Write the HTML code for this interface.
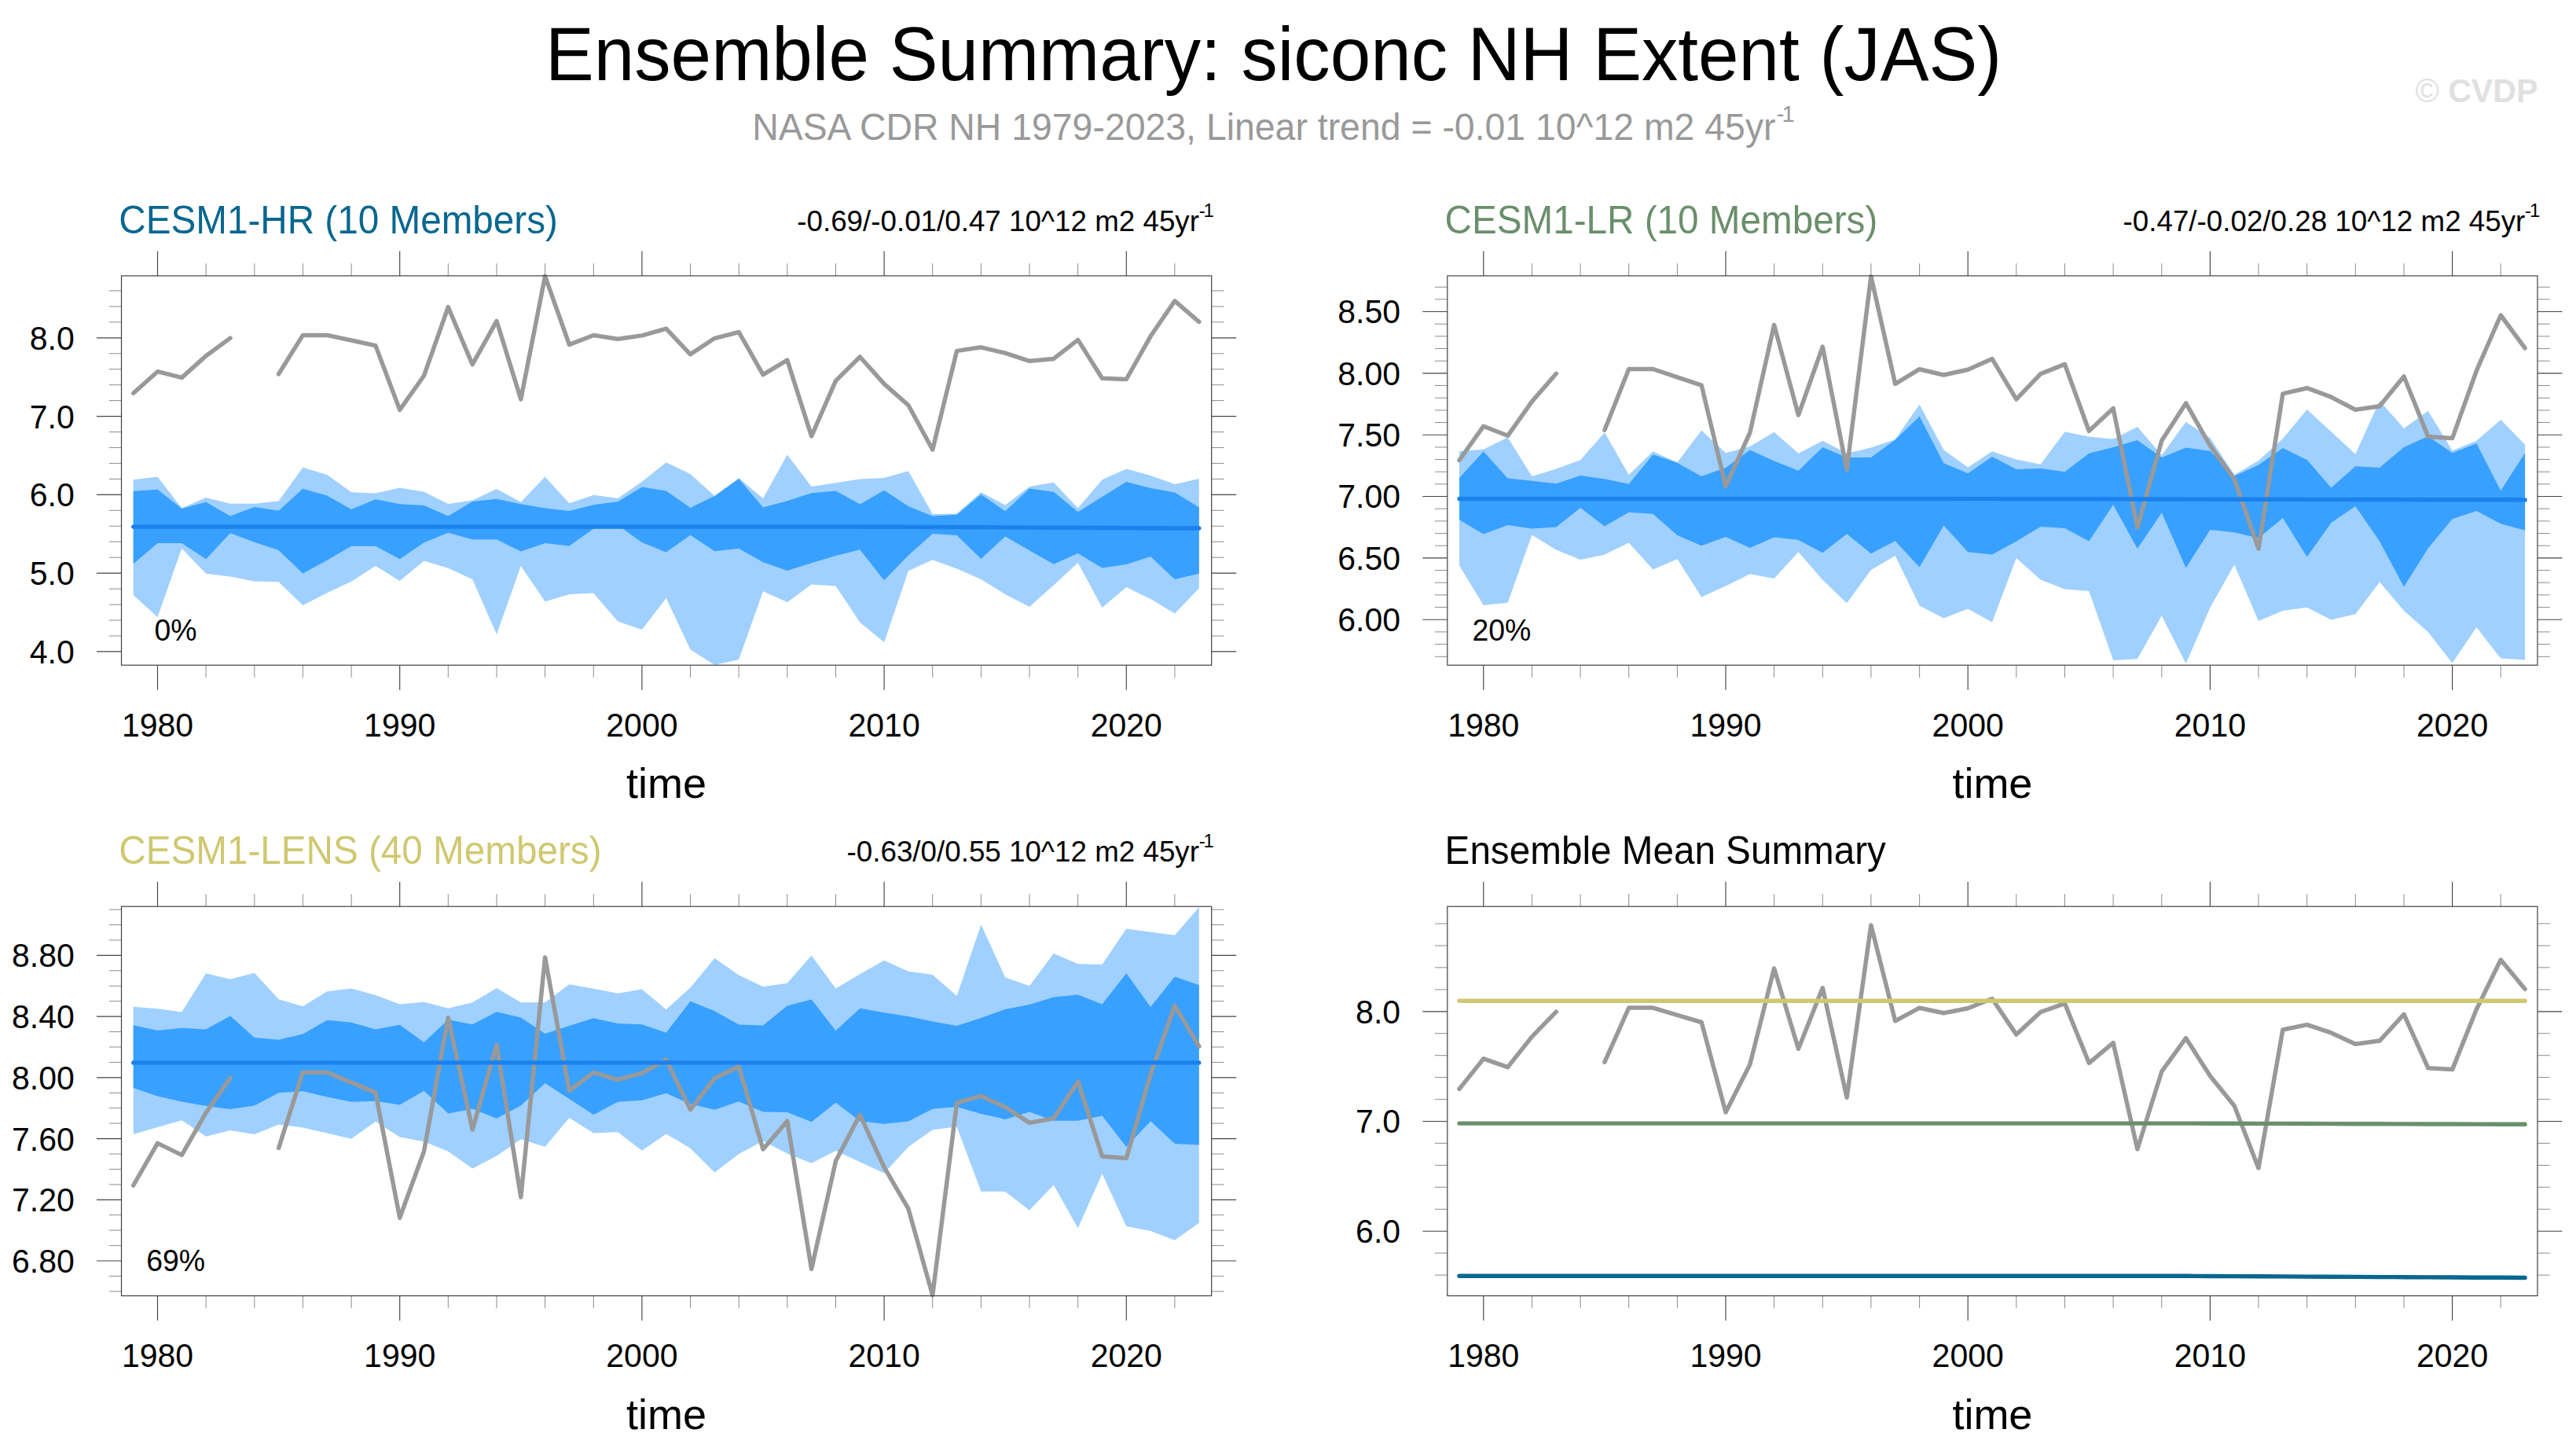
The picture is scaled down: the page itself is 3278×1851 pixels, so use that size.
<!DOCTYPE html>
<html><head><meta charset="utf-8"><title>Ensemble Summary: siconc NH Extent (JAS)</title>
<style>html,body{margin:0;padding:0;background:#fff}body{width:3278px;height:1851px;overflow:hidden}svg{display:block}text{font-family:"Liberation Sans",Arial,Helvetica,sans-serif}</style></head><body>
<svg width="3278" height="1851" viewBox="0 0 3278 1851">
<rect width="3278" height="1851" fill="#fff"/>
<defs>
<clipPath id="c1"><rect x="154.5" y="350.9" width="1387.2" height="495.3"/></clipPath>
<clipPath id="c2"><rect x="1841.8" y="350.9" width="1387.2" height="495.3"/></clipPath>
<clipPath id="c3"><rect x="154.5" y="1153.2" width="1387.2" height="495.3"/></clipPath>
<clipPath id="c4"><rect x="1841.8" y="1153.2" width="1387.2" height="495.3"/></clipPath>
</defs>
<text transform="translate(694.0 101.6) scale(1 1.035)" font-size="92.64">Ensemble Summary: siconc NH Extent (JAS)</text>
<text transform="translate(957.2 178.0) scale(1 1.035)" font-size="46.42" fill="#999">NASA CDR NH 1979-2023, Linear trend = -0.01 10^12 m2 45yr</text>
<text x="2260.8" y="155.4" font-size="29.3" letter-spacing="-3.0" fill="#999">-1</text>
<text transform="translate(3229.3 129.9) scale(1 1.035)" font-size="41.10" text-anchor="end" fill="#e0e0e0" font-weight="bold"><tspan font-weight="normal">©</tspan> CVDP</text>
<polygon clip-path="url(#c1)" fill="#9fd0ff" points="169.7,610.2 200.5,606.6 231.3,646.4 262.1,632.9 293.0,640.8 323.8,640.8 354.6,637.4 385.4,594.8 416.2,604.1 447.1,626.2 477.9,627.5 508.7,620.4 539.5,625.8 570.3,641.0 601.2,636.4 632.0,622.0 662.8,638.7 693.6,606.4 724.4,640.2 755.3,629.7 786.1,633.9 816.9,612.7 847.7,588.3 878.5,603.1 909.4,631.0 940.2,608.3 971.0,633.9 1001.8,578.5 1032.6,618.9 1063.5,614.3 1094.3,609.4 1125.1,607.9 1155.9,599.2 1186.7,654.1 1217.6,653.5 1248.4,626.2 1279.2,642.5 1310.0,619.1 1340.8,613.7 1371.7,646.4 1402.5,610.2 1433.3,596.4 1464.1,605.0 1494.9,616.0 1525.8,608.9 1525.8,748.4 1494.9,780.5 1464.1,761.9 1433.3,747.1 1402.5,773.0 1371.7,715.7 1340.8,744.5 1310.0,771.9 1279.2,756.1 1248.4,736.9 1217.6,723.4 1186.7,712.2 1155.9,726.3 1125.1,817.1 1094.3,791.7 1063.5,745.5 1032.6,743.6 1001.8,766.1 971.0,752.2 940.2,838.9 909.4,846.0 878.5,826.3 847.7,760.9 816.9,800.9 786.1,790.4 755.3,754.6 724.4,756.1 693.6,765.3 662.8,720.1 632.0,807.1 601.2,736.9 570.3,722.8 539.5,713.4 508.7,739.0 477.9,720.1 447.1,739.7 416.2,754.2 385.4,770.1 354.6,740.3 323.8,739.4 293.0,733.6 262.1,729.7 231.3,697.8 200.5,785.0 169.7,757.1"/>
<polygon clip-path="url(#c1)" fill="#38a0ff" points="169.7,624.8 200.5,622.7 231.3,647.0 262.1,638.7 293.0,656.6 323.8,645.1 354.6,649.7 385.4,621.8 416.2,630.6 447.1,647.9 477.9,635.2 508.7,641.2 539.5,642.9 570.3,656.4 601.2,638.1 632.0,634.8 662.8,641.2 693.6,646.4 724.4,649.9 755.3,642.2 786.1,638.3 816.9,619.6 847.7,624.6 878.5,646.0 909.4,631.0 940.2,608.9 971.0,645.4 1001.8,637.2 1032.6,627.2 1063.5,624.5 1094.3,641.6 1125.1,623.7 1155.9,643.9 1186.7,656.4 1217.6,654.7 1248.4,629.1 1279.2,650.2 1310.0,621.4 1340.8,625.8 1371.7,651.2 1402.5,632.0 1433.3,613.1 1464.1,621.0 1494.9,626.6 1525.8,645.4 1525.8,729.7 1494.9,736.9 1464.1,708.0 1433.3,718.0 1402.5,722.4 1371.7,704.1 1340.8,717.8 1310.0,700.3 1279.2,682.4 1248.4,710.9 1217.6,681.0 1186.7,679.1 1155.9,706.6 1125.1,738.2 1094.3,699.3 1063.5,707.0 1032.6,716.3 1001.8,725.9 971.0,715.3 940.2,697.8 909.4,701.2 878.5,680.8 847.7,702.4 816.9,690.1 786.1,668.1 755.3,672.4 724.4,694.5 693.6,691.0 662.8,701.6 632.0,686.2 601.2,686.2 570.3,677.8 539.5,690.3 508.7,711.3 477.9,694.7 447.1,694.7 416.2,712.8 385.4,729.5 354.6,699.9 323.8,689.7 293.0,678.2 262.1,711.3 231.3,691.0 200.5,691.0 169.7,717.2"/>
<polyline fill="none" stroke="#999999" stroke-width="5.5" stroke-linecap="round" stroke-linejoin="round" points="169.7,500.2 200.5,472.7 231.3,480.4 262.1,452.7 293.0,430.1"/>
<polyline fill="none" stroke="#999999" stroke-width="5.5" stroke-linecap="round" stroke-linejoin="round" points="354.6,475.8 385.4,426.4 416.2,426.4 447.1,433.0 477.9,439.6 508.7,521.4 539.5,478.0 570.3,390.7 601.2,463.7 632.0,408.3 662.8,507.9 693.6,351.4 724.4,438.4 755.3,426.5 786.1,431.2 816.9,426.9 847.7,418.1 878.5,450.8 909.4,430.3 940.2,422.5 971.0,476.6 1001.8,458.2 1032.6,554.8 1063.5,484.4 1094.3,454.0 1125.1,488.4 1155.9,515.5 1186.7,572.0 1217.6,446.4 1248.4,441.8 1279.2,449.2 1310.0,459.3 1340.8,456.4 1371.7,432.4 1402.5,481.2 1433.3,482.5 1464.1,427.8 1494.9,382.8 1525.8,409.4"/>
<polyline fill="none" stroke="#1a81ed" stroke-width="5.4" stroke-linecap="round" stroke-linejoin="round" points="169.7,670.1 200.5,670.1 231.3,670.1 262.1,670.1 293.0,670.1 323.8,670.1 354.6,670.1 385.4,670.1 416.2,670.1 447.1,670.1 477.9,670.1 508.7,670.1 539.5,670.1 570.3,670.1 601.2,670.1 632.0,670.1 662.8,670.1 693.6,670.1 724.4,670.1 755.3,670.1 786.1,670.1 816.9,670.1 847.7,670.1 878.5,670.1 909.4,670.1 940.2,670.1 971.0,670.1 1001.8,670.1 1032.6,670.1 1063.5,670.1 1094.3,670.1 1125.1,670.2 1155.9,670.4 1186.7,670.5 1217.6,670.6 1248.4,670.8 1279.2,670.9 1310.0,671.1 1340.8,671.2 1371.7,671.3 1402.5,671.5 1433.3,671.6 1464.1,671.7 1494.9,671.9 1525.8,672.0"/>
<path d="M200.5 350.9V319.4M200.5 846.2V877.7" stroke="#444" stroke-width="1.15"/>
<path d="M262.1 350.9V335.1M262.1 846.2V862.0" stroke="#8c8c8c" stroke-width="1.0"/>
<path d="M323.8 350.9V335.1M323.8 846.2V862.0" stroke="#8c8c8c" stroke-width="1.0"/>
<path d="M385.4 350.9V335.1M385.4 846.2V862.0" stroke="#8c8c8c" stroke-width="1.0"/>
<path d="M447.1 350.9V335.1M447.1 846.2V862.0" stroke="#8c8c8c" stroke-width="1.0"/>
<path d="M508.7 350.9V319.4M508.7 846.2V877.7" stroke="#444" stroke-width="1.15"/>
<path d="M570.3 350.9V335.1M570.3 846.2V862.0" stroke="#8c8c8c" stroke-width="1.0"/>
<path d="M632.0 350.9V335.1M632.0 846.2V862.0" stroke="#8c8c8c" stroke-width="1.0"/>
<path d="M693.6 350.9V335.1M693.6 846.2V862.0" stroke="#8c8c8c" stroke-width="1.0"/>
<path d="M755.3 350.9V335.1M755.3 846.2V862.0" stroke="#8c8c8c" stroke-width="1.0"/>
<path d="M816.9 350.9V319.4M816.9 846.2V877.7" stroke="#444" stroke-width="1.15"/>
<path d="M878.5 350.9V335.1M878.5 846.2V862.0" stroke="#8c8c8c" stroke-width="1.0"/>
<path d="M940.2 350.9V335.1M940.2 846.2V862.0" stroke="#8c8c8c" stroke-width="1.0"/>
<path d="M1001.8 350.9V335.1M1001.8 846.2V862.0" stroke="#8c8c8c" stroke-width="1.0"/>
<path d="M1063.5 350.9V335.1M1063.5 846.2V862.0" stroke="#8c8c8c" stroke-width="1.0"/>
<path d="M1125.1 350.9V319.4M1125.1 846.2V877.7" stroke="#444" stroke-width="1.15"/>
<path d="M1186.7 350.9V335.1M1186.7 846.2V862.0" stroke="#8c8c8c" stroke-width="1.0"/>
<path d="M1248.4 350.9V335.1M1248.4 846.2V862.0" stroke="#8c8c8c" stroke-width="1.0"/>
<path d="M1310.0 350.9V335.1M1310.0 846.2V862.0" stroke="#8c8c8c" stroke-width="1.0"/>
<path d="M1371.7 350.9V335.1M1371.7 846.2V862.0" stroke="#8c8c8c" stroke-width="1.0"/>
<path d="M1433.3 350.9V319.4M1433.3 846.2V877.7" stroke="#444" stroke-width="1.15"/>
<path d="M1494.9 350.9V335.1M1494.9 846.2V862.0" stroke="#8c8c8c" stroke-width="1.0"/>
<path d="M154.5 809.0H138.7M1541.7 809.0H1557.5" stroke="#8c8c8c" stroke-width="1.0"/>
<path d="M154.5 789.0H138.7M1541.7 789.0H1557.5" stroke="#8c8c8c" stroke-width="1.0"/>
<path d="M154.5 769.1H138.7M1541.7 769.1H1557.5" stroke="#8c8c8c" stroke-width="1.0"/>
<path d="M154.5 749.1H138.7M1541.7 749.1H1557.5" stroke="#8c8c8c" stroke-width="1.0"/>
<path d="M154.5 709.2H138.7M1541.7 709.2H1557.5" stroke="#8c8c8c" stroke-width="1.0"/>
<path d="M154.5 689.2H138.7M1541.7 689.2H1557.5" stroke="#8c8c8c" stroke-width="1.0"/>
<path d="M154.5 669.3H138.7M1541.7 669.3H1557.5" stroke="#8c8c8c" stroke-width="1.0"/>
<path d="M154.5 649.3H138.7M1541.7 649.3H1557.5" stroke="#8c8c8c" stroke-width="1.0"/>
<path d="M154.5 609.4H138.7M1541.7 609.4H1557.5" stroke="#8c8c8c" stroke-width="1.0"/>
<path d="M154.5 589.4H138.7M1541.7 589.4H1557.5" stroke="#8c8c8c" stroke-width="1.0"/>
<path d="M154.5 569.5H138.7M1541.7 569.5H1557.5" stroke="#8c8c8c" stroke-width="1.0"/>
<path d="M154.5 549.5H138.7M1541.7 549.5H1557.5" stroke="#8c8c8c" stroke-width="1.0"/>
<path d="M154.5 509.6H138.7M1541.7 509.6H1557.5" stroke="#8c8c8c" stroke-width="1.0"/>
<path d="M154.5 489.7H138.7M1541.7 489.7H1557.5" stroke="#8c8c8c" stroke-width="1.0"/>
<path d="M154.5 469.7H138.7M1541.7 469.7H1557.5" stroke="#8c8c8c" stroke-width="1.0"/>
<path d="M154.5 449.8H138.7M1541.7 449.8H1557.5" stroke="#8c8c8c" stroke-width="1.0"/>
<path d="M154.5 409.8H138.7M1541.7 409.8H1557.5" stroke="#8c8c8c" stroke-width="1.0"/>
<path d="M154.5 389.9H138.7M1541.7 389.9H1557.5" stroke="#8c8c8c" stroke-width="1.0"/>
<path d="M154.5 369.9H138.7M1541.7 369.9H1557.5" stroke="#8c8c8c" stroke-width="1.0"/>
<path d="M154.5 828.9H123.0M1541.7 828.9H1573.2" stroke="#444" stroke-width="1.15"/>
<text transform="translate(94.8 843.8) scale(1 1.025)" font-size="41.00" text-anchor="end">4.0</text>
<path d="M154.5 729.1H123.0M1541.7 729.1H1573.2" stroke="#444" stroke-width="1.15"/>
<text transform="translate(94.8 744.0) scale(1 1.025)" font-size="41.00" text-anchor="end">5.0</text>
<path d="M154.5 629.4H123.0M1541.7 629.4H1573.2" stroke="#444" stroke-width="1.15"/>
<text transform="translate(94.8 644.3) scale(1 1.025)" font-size="41.00" text-anchor="end">6.0</text>
<path d="M154.5 529.6H123.0M1541.7 529.6H1573.2" stroke="#444" stroke-width="1.15"/>
<text transform="translate(94.8 544.5) scale(1 1.025)" font-size="41.00" text-anchor="end">7.0</text>
<path d="M154.5 429.8H123.0M1541.7 429.8H1573.2" stroke="#444" stroke-width="1.15"/>
<text transform="translate(94.8 444.7) scale(1 1.025)" font-size="41.00" text-anchor="end">8.0</text>
<rect x="154.5" y="350.9" width="1387.2" height="495.3" fill="none" stroke="#3a3a3a" stroke-width="1.15"/>
<text transform="translate(200.5 936.5) scale(1 1.025)" font-size="41.00" text-anchor="middle">1980</text>
<text transform="translate(508.7 936.5) scale(1 1.025)" font-size="41.00" text-anchor="middle">1990</text>
<text transform="translate(816.9 936.5) scale(1 1.025)" font-size="41.00" text-anchor="middle">2000</text>
<text transform="translate(1125.1 936.5) scale(1 1.025)" font-size="41.00" text-anchor="middle">2010</text>
<text transform="translate(1433.3 936.5) scale(1 1.025)" font-size="41.00" text-anchor="middle">2020</text>
<text x="848.1" y="1015.3" font-size="54.00" text-anchor="middle">time</text>
<text transform="translate(151.3 296.5) scale(1 1.035)" font-size="47.65" fill="#07678f">CESM1-HR (10 Members)</text>
<text transform="translate(1526.0 293.9) scale(1 1.025)" font-size="36.77" text-anchor="end">-0.69/-0.01/0.47 10^12 m2 45yr</text>
<text x="1525.8" y="276.0" font-size="24.0" letter-spacing="-2.2">-1</text>
<text transform="translate(223.6 815.0) scale(1 1.025)" font-size="37.40" text-anchor="middle">0%</text>
<polygon clip-path="url(#c2)" fill="#9fd0ff" points="1857.0,573.9 1887.8,571.8 1918.6,556.6 1949.4,606.1 1980.3,596.4 2011.1,585.3 2041.9,550.2 2072.7,604.1 2103.5,574.3 2134.4,588.2 2165.2,547.4 2196.0,576.2 2226.8,568.1 2257.6,549.7 2288.5,576.8 2319.3,560.8 2350.1,576.8 2380.9,569.5 2411.7,558.9 2442.6,514.6 2473.4,572.4 2504.2,594.5 2535.0,574.3 2565.8,584.5 2596.7,590.7 2627.5,549.3 2658.3,555.6 2689.1,558.5 2719.9,542.9 2750.8,579.1 2781.6,536.8 2812.4,557.0 2843.2,604.1 2874.0,585.9 2904.9,557.9 2935.7,521.0 2966.5,549.3 2997.3,577.8 3028.1,509.8 3059.0,544.9 3089.8,522.7 3120.6,573.3 3151.4,560.8 3182.2,533.9 3213.1,565.6 3213.1,839.5 3182.2,837.6 3151.4,798.1 3120.6,843.4 3089.8,803.9 3059.0,777.0 3028.1,740.4 2997.3,781.2 2966.5,788.5 2935.7,772.7 2904.9,777.0 2874.0,790.0 2843.2,718.3 2812.4,773.1 2781.6,844.3 2750.8,783.3 2719.9,838.2 2689.1,839.9 2658.3,751.9 2627.5,749.4 2596.7,737.5 2565.8,710.0 2535.0,791.4 2504.2,774.5 2473.4,786.6 2442.6,770.6 2411.7,707.1 2380.9,725.0 2350.1,767.3 2319.3,737.7 2288.5,702.3 2257.6,736.0 2226.8,730.2 2196.0,745.6 2165.2,759.4 2134.4,711.3 2103.5,724.4 2072.7,690.4 2041.9,705.6 2011.1,711.9 1980.3,699.4 1949.4,680.5 1918.6,766.8 1887.8,770.0 1857.0,719.6"/>
<polygon clip-path="url(#c2)" fill="#38a0ff" points="1857.0,608.0 1887.8,574.3 1918.6,608.4 1949.4,611.8 1980.3,615.3 2011.1,605.1 2041.9,609.3 2072.7,615.7 2103.5,578.2 2134.4,588.7 2165.2,606.1 2196.0,595.1 2226.8,572.4 2257.6,586.4 2288.5,598.7 2319.3,569.1 2350.1,582.0 2380.9,582.0 2411.7,559.5 2442.6,529.7 2473.4,589.3 2504.2,602.2 2535.0,581.0 2565.8,597.0 2596.7,595.9 2627.5,600.3 2658.3,576.8 2689.1,569.1 2719.9,559.9 2750.8,582.0 2781.6,569.5 2812.4,573.7 2843.2,605.5 2874.0,591.6 2904.9,570.1 2935.7,584.9 2966.5,620.5 2997.3,593.2 3028.1,594.9 3059.0,568.9 3089.8,555.1 3120.6,576.2 3151.4,564.3 3182.2,624.3 3213.1,576.2 3213.1,674.8 3182.2,666.3 3151.4,649.9 3120.6,660.3 3089.8,697.5 3059.0,746.6 3028.1,688.8 2997.3,644.0 2966.5,665.1 2935.7,708.4 2904.9,659.0 2874.0,684.4 2843.2,677.3 2812.4,674.0 2781.6,722.5 2750.8,652.2 2719.9,697.9 2689.1,642.2 2658.3,688.4 2627.5,672.1 2596.7,670.0 2565.8,688.8 2535.0,705.6 2504.2,702.3 2473.4,668.6 2442.6,721.5 2411.7,688.2 2380.9,704.2 2350.1,679.2 2319.3,703.2 2288.5,686.9 2257.6,683.6 2226.8,696.9 2196.0,683.0 2165.2,694.2 2134.4,681.1 2103.5,653.8 2072.7,651.7 2041.9,669.6 2011.1,646.1 1980.3,670.5 1949.4,672.5 1918.6,668.0 1887.8,679.6 1857.0,661.3"/>
<polyline fill="none" stroke="#999999" stroke-width="5.5" stroke-linecap="round" stroke-linejoin="round" points="1857.0,585.5 1887.8,542.2 1918.6,554.3 1949.4,510.9 1980.3,475.3"/>
<polyline fill="none" stroke="#999999" stroke-width="5.5" stroke-linecap="round" stroke-linejoin="round" points="2041.9,547.1 2072.7,469.5 2103.5,469.5 2134.4,479.9 2165.2,490.2 2196.0,618.7 2226.8,550.5 2257.6,413.4 2288.5,528.1 2319.3,441.2 2350.1,597.5 2380.9,351.7 2411.7,488.3 2442.6,469.7 2473.4,477.0 2504.2,470.3 2535.0,456.5 2565.8,507.8 2596.7,475.6 2627.5,463.4 2658.3,548.3 2689.1,519.5 2719.9,671.2 2750.8,560.6 2781.6,512.9 2812.4,566.8 2843.2,609.5 2874.0,698.1 2904.9,500.9 2935.7,493.7 2966.5,505.2 2997.3,521.2 3028.1,516.7 3059.0,478.9 3089.8,555.6 3120.6,557.6 3151.4,471.7 3182.2,401.0 3213.1,442.9"/>
<polyline fill="none" stroke="#1a81ed" stroke-width="5.4" stroke-linecap="round" stroke-linejoin="round" points="1857.0,634.5 1887.8,634.5 1918.6,634.5 1949.4,634.5 1980.3,634.5 2011.1,634.5 2041.9,634.5 2072.7,634.5 2103.5,634.5 2134.4,634.5 2165.2,634.5 2196.0,634.5 2226.8,634.5 2257.6,634.5 2288.5,634.5 2319.3,634.5 2350.1,634.5 2380.9,634.5 2411.7,634.5 2442.6,634.5 2473.4,634.5 2504.2,634.6 2535.0,634.6 2565.8,634.7 2596.7,634.7 2627.5,634.8 2658.3,634.9 2689.1,634.9 2719.9,635.0 2750.8,635.0 2781.6,635.1 2812.4,635.1 2843.2,635.2 2874.0,635.3 2904.9,635.3 2935.7,635.4 2966.5,635.4 2997.3,635.5 3028.1,635.5 3059.0,635.6 3089.8,635.7 3120.6,635.7 3151.4,635.8 3182.2,635.8 3213.1,635.9"/>
<path d="M1887.8 350.9V319.4M1887.8 846.2V877.7" stroke="#444" stroke-width="1.15"/>
<path d="M1949.4 350.9V335.1M1949.4 846.2V862.0" stroke="#8c8c8c" stroke-width="1.0"/>
<path d="M2011.1 350.9V335.1M2011.1 846.2V862.0" stroke="#8c8c8c" stroke-width="1.0"/>
<path d="M2072.7 350.9V335.1M2072.7 846.2V862.0" stroke="#8c8c8c" stroke-width="1.0"/>
<path d="M2134.4 350.9V335.1M2134.4 846.2V862.0" stroke="#8c8c8c" stroke-width="1.0"/>
<path d="M2196.0 350.9V319.4M2196.0 846.2V877.7" stroke="#444" stroke-width="1.15"/>
<path d="M2257.6 350.9V335.1M2257.6 846.2V862.0" stroke="#8c8c8c" stroke-width="1.0"/>
<path d="M2319.3 350.9V335.1M2319.3 846.2V862.0" stroke="#8c8c8c" stroke-width="1.0"/>
<path d="M2380.9 350.9V335.1M2380.9 846.2V862.0" stroke="#8c8c8c" stroke-width="1.0"/>
<path d="M2442.6 350.9V335.1M2442.6 846.2V862.0" stroke="#8c8c8c" stroke-width="1.0"/>
<path d="M2504.2 350.9V319.4M2504.2 846.2V877.7" stroke="#444" stroke-width="1.15"/>
<path d="M2565.8 350.9V335.1M2565.8 846.2V862.0" stroke="#8c8c8c" stroke-width="1.0"/>
<path d="M2627.5 350.9V335.1M2627.5 846.2V862.0" stroke="#8c8c8c" stroke-width="1.0"/>
<path d="M2689.1 350.9V335.1M2689.1 846.2V862.0" stroke="#8c8c8c" stroke-width="1.0"/>
<path d="M2750.8 350.9V335.1M2750.8 846.2V862.0" stroke="#8c8c8c" stroke-width="1.0"/>
<path d="M2812.4 350.9V319.4M2812.4 846.2V877.7" stroke="#444" stroke-width="1.15"/>
<path d="M2874.0 350.9V335.1M2874.0 846.2V862.0" stroke="#8c8c8c" stroke-width="1.0"/>
<path d="M2935.7 350.9V335.1M2935.7 846.2V862.0" stroke="#8c8c8c" stroke-width="1.0"/>
<path d="M2997.3 350.9V335.1M2997.3 846.2V862.0" stroke="#8c8c8c" stroke-width="1.0"/>
<path d="M3059.0 350.9V335.1M3059.0 846.2V862.0" stroke="#8c8c8c" stroke-width="1.0"/>
<path d="M3120.6 350.9V319.4M3120.6 846.2V877.7" stroke="#444" stroke-width="1.15"/>
<path d="M3182.2 350.9V335.1M3182.2 846.2V862.0" stroke="#8c8c8c" stroke-width="1.0"/>
<path d="M1841.8 835.3H1826.0M3229.0 835.3H3244.8" stroke="#8c8c8c" stroke-width="1.0"/>
<path d="M1841.8 819.6H1826.0M3229.0 819.6H3244.8" stroke="#8c8c8c" stroke-width="1.0"/>
<path d="M1841.8 803.9H1826.0M3229.0 803.9H3244.8" stroke="#8c8c8c" stroke-width="1.0"/>
<path d="M1841.8 772.6H1826.0M3229.0 772.6H3244.8" stroke="#8c8c8c" stroke-width="1.0"/>
<path d="M1841.8 756.9H1826.0M3229.0 756.9H3244.8" stroke="#8c8c8c" stroke-width="1.0"/>
<path d="M1841.8 741.2H1826.0M3229.0 741.2H3244.8" stroke="#8c8c8c" stroke-width="1.0"/>
<path d="M1841.8 725.6H1826.0M3229.0 725.6H3244.8" stroke="#8c8c8c" stroke-width="1.0"/>
<path d="M1841.8 694.2H1826.0M3229.0 694.2H3244.8" stroke="#8c8c8c" stroke-width="1.0"/>
<path d="M1841.8 678.6H1826.0M3229.0 678.6H3244.8" stroke="#8c8c8c" stroke-width="1.0"/>
<path d="M1841.8 662.9H1826.0M3229.0 662.9H3244.8" stroke="#8c8c8c" stroke-width="1.0"/>
<path d="M1841.8 647.2H1826.0M3229.0 647.2H3244.8" stroke="#8c8c8c" stroke-width="1.0"/>
<path d="M1841.8 615.9H1826.0M3229.0 615.9H3244.8" stroke="#8c8c8c" stroke-width="1.0"/>
<path d="M1841.8 600.2H1826.0M3229.0 600.2H3244.8" stroke="#8c8c8c" stroke-width="1.0"/>
<path d="M1841.8 584.5H1826.0M3229.0 584.5H3244.8" stroke="#8c8c8c" stroke-width="1.0"/>
<path d="M1841.8 568.9H1826.0M3229.0 568.9H3244.8" stroke="#8c8c8c" stroke-width="1.0"/>
<path d="M1841.8 537.5H1826.0M3229.0 537.5H3244.8" stroke="#8c8c8c" stroke-width="1.0"/>
<path d="M1841.8 521.9H1826.0M3229.0 521.9H3244.8" stroke="#8c8c8c" stroke-width="1.0"/>
<path d="M1841.8 506.2H1826.0M3229.0 506.2H3244.8" stroke="#8c8c8c" stroke-width="1.0"/>
<path d="M1841.8 490.5H1826.0M3229.0 490.5H3244.8" stroke="#8c8c8c" stroke-width="1.0"/>
<path d="M1841.8 459.2H1826.0M3229.0 459.2H3244.8" stroke="#8c8c8c" stroke-width="1.0"/>
<path d="M1841.8 443.5H1826.0M3229.0 443.5H3244.8" stroke="#8c8c8c" stroke-width="1.0"/>
<path d="M1841.8 427.8H1826.0M3229.0 427.8H3244.8" stroke="#8c8c8c" stroke-width="1.0"/>
<path d="M1841.8 412.2H1826.0M3229.0 412.2H3244.8" stroke="#8c8c8c" stroke-width="1.0"/>
<path d="M1841.8 380.8H1826.0M3229.0 380.8H3244.8" stroke="#8c8c8c" stroke-width="1.0"/>
<path d="M1841.8 365.2H1826.0M3229.0 365.2H3244.8" stroke="#8c8c8c" stroke-width="1.0"/>
<path d="M1841.8 788.2H1810.3M3229.0 788.2H3260.5" stroke="#444" stroke-width="1.15"/>
<text transform="translate(1782.1 803.1) scale(1 1.025)" font-size="41.00" text-anchor="end">6.00</text>
<path d="M1841.8 709.9H1810.3M3229.0 709.9H3260.5" stroke="#444" stroke-width="1.15"/>
<text transform="translate(1782.1 724.8) scale(1 1.025)" font-size="41.00" text-anchor="end">6.50</text>
<path d="M1841.8 631.5H1810.3M3229.0 631.5H3260.5" stroke="#444" stroke-width="1.15"/>
<text transform="translate(1782.1 646.4) scale(1 1.025)" font-size="41.00" text-anchor="end">7.00</text>
<path d="M1841.8 553.2H1810.3M3229.0 553.2H3260.5" stroke="#444" stroke-width="1.15"/>
<text transform="translate(1782.1 568.1) scale(1 1.025)" font-size="41.00" text-anchor="end">7.50</text>
<path d="M1841.8 474.9H1810.3M3229.0 474.9H3260.5" stroke="#444" stroke-width="1.15"/>
<text transform="translate(1782.1 489.8) scale(1 1.025)" font-size="41.00" text-anchor="end">8.00</text>
<path d="M1841.8 396.5H1810.3M3229.0 396.5H3260.5" stroke="#444" stroke-width="1.15"/>
<text transform="translate(1782.1 411.4) scale(1 1.025)" font-size="41.00" text-anchor="end">8.50</text>
<rect x="1841.8" y="350.9" width="1387.2" height="495.3" fill="none" stroke="#3a3a3a" stroke-width="1.15"/>
<text transform="translate(1887.8 936.5) scale(1 1.025)" font-size="41.00" text-anchor="middle">1980</text>
<text transform="translate(2196.0 936.5) scale(1 1.025)" font-size="41.00" text-anchor="middle">1990</text>
<text transform="translate(2504.2 936.5) scale(1 1.025)" font-size="41.00" text-anchor="middle">2000</text>
<text transform="translate(2812.4 936.5) scale(1 1.025)" font-size="41.00" text-anchor="middle">2010</text>
<text transform="translate(3120.6 936.5) scale(1 1.025)" font-size="41.00" text-anchor="middle">2020</text>
<text x="2535.4" y="1015.3" font-size="54.00" text-anchor="middle">time</text>
<text transform="translate(1838.6 296.5) scale(1 1.035)" font-size="47.65" fill="#6a8f6b">CESM1-LR (10 Members)</text>
<text transform="translate(3213.3 293.9) scale(1 1.025)" font-size="36.77" text-anchor="end">-0.47/-0.02/0.28 10^12 m2 45yr</text>
<text x="3213.1" y="276.0" font-size="24.0" letter-spacing="-2.2">-1</text>
<text transform="translate(1910.9 815.0) scale(1 1.025)" font-size="37.40" text-anchor="middle">20%</text>
<polygon clip-path="url(#c3)" fill="#9fd0ff" points="169.7,1280.7 200.5,1283.2 231.3,1287.4 262.1,1238.2 293.0,1245.7 323.8,1237.8 354.6,1271.3 385.4,1280.3 416.2,1261.2 447.1,1257.4 477.9,1266.1 508.7,1277.4 539.5,1274.7 570.3,1282.8 601.2,1275.3 632.0,1257.0 662.8,1275.3 693.6,1275.3 724.4,1252.2 755.3,1257.8 786.1,1263.7 816.9,1258.4 847.7,1284.3 878.5,1256.4 909.4,1218.9 940.2,1240.5 971.0,1255.3 1001.8,1250.7 1032.6,1215.6 1063.5,1257.4 1094.3,1239.3 1125.1,1221.8 1155.9,1235.8 1186.7,1240.1 1217.6,1267.0 1248.4,1176.2 1279.2,1243.5 1310.0,1254.3 1340.8,1213.1 1371.7,1226.2 1402.5,1227.0 1433.3,1181.4 1464.1,1185.8 1494.9,1189.7 1525.8,1153.9 1525.8,1555.7 1494.9,1577.8 1464.1,1566.1 1433.3,1559.9 1402.5,1493.2 1371.7,1562.4 1340.8,1507.4 1310.0,1539.7 1279.2,1515.9 1248.4,1515.7 1217.6,1433.5 1186.7,1437.2 1155.9,1458.9 1125.1,1492.6 1094.3,1478.2 1063.5,1464.1 1032.6,1479.7 1001.8,1467.6 971.0,1451.6 940.2,1468.0 909.4,1491.6 878.5,1460.8 847.7,1442.5 816.9,1463.7 786.1,1440.2 755.3,1441.6 724.4,1422.0 693.6,1458.9 662.8,1449.3 632.0,1470.5 601.2,1486.4 570.3,1464.7 539.5,1452.2 508.7,1446.4 477.9,1426.8 447.1,1448.7 416.2,1441.6 385.4,1434.5 354.6,1430.4 323.8,1442.9 293.0,1438.1 262.1,1445.8 231.3,1425.2 200.5,1433.9 169.7,1442.9"/>
<polygon clip-path="url(#c3)" fill="#38a0ff" points="169.7,1304.2 200.5,1310.9 231.3,1307.8 262.1,1309.6 293.0,1292.4 323.8,1319.9 354.6,1322.8 385.4,1315.5 416.2,1297.8 447.1,1300.7 477.9,1309.4 508.7,1303.8 539.5,1326.1 570.3,1297.2 601.2,1303.2 632.0,1287.2 662.8,1294.5 693.6,1315.1 724.4,1305.1 755.3,1295.3 786.1,1302.0 816.9,1303.2 847.7,1313.8 878.5,1273.8 909.4,1286.3 940.2,1303.6 971.0,1304.5 1001.8,1279.5 1032.6,1271.4 1063.5,1311.3 1094.3,1282.8 1125.1,1288.2 1155.9,1293.0 1186.7,1299.4 1217.6,1305.1 1248.4,1294.9 1279.2,1284.0 1310.0,1278.0 1340.8,1268.6 1371.7,1265.5 1402.5,1277.6 1433.3,1238.2 1464.1,1281.1 1494.9,1242.4 1525.8,1253.2 1525.8,1456.6 1494.9,1455.1 1464.1,1426.2 1433.3,1458.9 1402.5,1419.5 1371.7,1425.8 1340.8,1425.8 1310.0,1414.6 1279.2,1423.9 1248.4,1417.0 1217.6,1407.9 1186.7,1410.8 1155.9,1426.6 1125.1,1429.7 1094.3,1426.2 1063.5,1402.7 1032.6,1427.2 1001.8,1415.0 971.0,1414.6 940.2,1401.2 909.4,1411.8 878.5,1404.6 847.7,1390.8 816.9,1399.8 786.1,1401.7 755.3,1418.1 724.4,1397.9 693.6,1378.1 662.8,1406.4 632.0,1422.7 601.2,1410.8 570.3,1416.6 539.5,1387.7 508.7,1405.6 477.9,1400.8 447.1,1401.7 416.2,1395.6 385.4,1388.3 354.6,1390.2 323.8,1406.6 293.0,1411.0 262.1,1407.1 231.3,1401.4 200.5,1394.6 169.7,1384.0"/>
<polyline fill="none" stroke="#999999" stroke-width="5.5" stroke-linecap="round" stroke-linejoin="round" points="169.7,1508.0 200.5,1454.4 231.3,1469.4 262.1,1415.5 293.0,1371.4"/>
<polyline fill="none" stroke="#999999" stroke-width="5.5" stroke-linecap="round" stroke-linejoin="round" points="354.6,1460.4 385.4,1364.2 416.2,1364.2 447.1,1377.1 477.9,1389.9 508.7,1549.2 539.5,1464.7 570.3,1294.7 601.2,1436.9 632.0,1329.1 662.8,1523.0 693.6,1218.1 724.4,1387.5 755.3,1364.4 786.1,1373.6 816.9,1365.2 847.7,1348.1 878.5,1411.6 909.4,1371.8 940.2,1356.7 971.0,1462.0 1001.8,1426.2 1032.6,1614.3 1063.5,1477.1 1094.3,1418.1 1125.1,1484.9 1155.9,1537.7 1186.7,1647.7 1217.6,1403.1 1248.4,1394.2 1279.2,1408.5 1310.0,1428.4 1340.8,1422.7 1371.7,1375.9 1402.5,1470.9 1433.3,1473.4 1464.1,1367.0 1494.9,1279.3 1525.8,1331.2"/>
<polyline fill="none" stroke="#1a81ed" stroke-width="5.4" stroke-linecap="round" stroke-linejoin="round" points="169.7,1351.9 200.5,1351.9 231.3,1351.9 262.1,1351.9 293.0,1351.9 323.8,1351.9 354.6,1351.9 385.4,1351.9 416.2,1351.9 447.1,1351.9 477.9,1351.9 508.7,1351.9 539.5,1351.9 570.3,1351.9 601.2,1351.9 632.0,1351.9 662.8,1351.9 693.6,1351.9 724.4,1351.9 755.3,1351.9 786.1,1351.9 816.9,1351.9 847.7,1351.9 878.5,1351.9 909.4,1351.9 940.2,1351.9 971.0,1351.9 1001.8,1351.9 1032.6,1351.9 1063.5,1351.9 1094.3,1351.9 1125.1,1351.9 1155.9,1351.9 1186.7,1351.9 1217.6,1351.9 1248.4,1351.9 1279.2,1351.9 1310.0,1351.9 1340.8,1351.9 1371.7,1351.9 1402.5,1351.9 1433.3,1351.9 1464.1,1351.9 1494.9,1351.9 1525.8,1351.9"/>
<path d="M200.5 1153.2V1121.7M200.5 1648.5V1680.0" stroke="#444" stroke-width="1.15"/>
<path d="M262.1 1153.2V1137.4M262.1 1648.5V1664.3" stroke="#8c8c8c" stroke-width="1.0"/>
<path d="M323.8 1153.2V1137.4M323.8 1648.5V1664.3" stroke="#8c8c8c" stroke-width="1.0"/>
<path d="M385.4 1153.2V1137.4M385.4 1648.5V1664.3" stroke="#8c8c8c" stroke-width="1.0"/>
<path d="M447.1 1153.2V1137.4M447.1 1648.5V1664.3" stroke="#8c8c8c" stroke-width="1.0"/>
<path d="M508.7 1153.2V1121.7M508.7 1648.5V1680.0" stroke="#444" stroke-width="1.15"/>
<path d="M570.3 1153.2V1137.4M570.3 1648.5V1664.3" stroke="#8c8c8c" stroke-width="1.0"/>
<path d="M632.0 1153.2V1137.4M632.0 1648.5V1664.3" stroke="#8c8c8c" stroke-width="1.0"/>
<path d="M693.6 1153.2V1137.4M693.6 1648.5V1664.3" stroke="#8c8c8c" stroke-width="1.0"/>
<path d="M755.3 1153.2V1137.4M755.3 1648.5V1664.3" stroke="#8c8c8c" stroke-width="1.0"/>
<path d="M816.9 1153.2V1121.7M816.9 1648.5V1680.0" stroke="#444" stroke-width="1.15"/>
<path d="M878.5 1153.2V1137.4M878.5 1648.5V1664.3" stroke="#8c8c8c" stroke-width="1.0"/>
<path d="M940.2 1153.2V1137.4M940.2 1648.5V1664.3" stroke="#8c8c8c" stroke-width="1.0"/>
<path d="M1001.8 1153.2V1137.4M1001.8 1648.5V1664.3" stroke="#8c8c8c" stroke-width="1.0"/>
<path d="M1063.5 1153.2V1137.4M1063.5 1648.5V1664.3" stroke="#8c8c8c" stroke-width="1.0"/>
<path d="M1125.1 1153.2V1121.7M1125.1 1648.5V1680.0" stroke="#444" stroke-width="1.15"/>
<path d="M1186.7 1153.2V1137.4M1186.7 1648.5V1664.3" stroke="#8c8c8c" stroke-width="1.0"/>
<path d="M1248.4 1153.2V1137.4M1248.4 1648.5V1664.3" stroke="#8c8c8c" stroke-width="1.0"/>
<path d="M1310.0 1153.2V1137.4M1310.0 1648.5V1664.3" stroke="#8c8c8c" stroke-width="1.0"/>
<path d="M1371.7 1153.2V1137.4M1371.7 1648.5V1664.3" stroke="#8c8c8c" stroke-width="1.0"/>
<path d="M1433.3 1153.2V1121.7M1433.3 1648.5V1680.0" stroke="#444" stroke-width="1.15"/>
<path d="M1494.9 1153.2V1137.4M1494.9 1648.5V1664.3" stroke="#8c8c8c" stroke-width="1.0"/>
<path d="M154.5 1642.9H138.7M1541.7 1642.9H1557.5" stroke="#8c8c8c" stroke-width="1.0"/>
<path d="M154.5 1623.4H138.7M1541.7 1623.4H1557.5" stroke="#8c8c8c" stroke-width="1.0"/>
<path d="M154.5 1584.6H138.7M1541.7 1584.6H1557.5" stroke="#8c8c8c" stroke-width="1.0"/>
<path d="M154.5 1565.1H138.7M1541.7 1565.1H1557.5" stroke="#8c8c8c" stroke-width="1.0"/>
<path d="M154.5 1545.7H138.7M1541.7 1545.7H1557.5" stroke="#8c8c8c" stroke-width="1.0"/>
<path d="M154.5 1506.9H138.7M1541.7 1506.9H1557.5" stroke="#8c8c8c" stroke-width="1.0"/>
<path d="M154.5 1487.4H138.7M1541.7 1487.4H1557.5" stroke="#8c8c8c" stroke-width="1.0"/>
<path d="M154.5 1468.0H138.7M1541.7 1468.0H1557.5" stroke="#8c8c8c" stroke-width="1.0"/>
<path d="M154.5 1429.1H138.7M1541.7 1429.1H1557.5" stroke="#8c8c8c" stroke-width="1.0"/>
<path d="M154.5 1409.7H138.7M1541.7 1409.7H1557.5" stroke="#8c8c8c" stroke-width="1.0"/>
<path d="M154.5 1390.3H138.7M1541.7 1390.3H1557.5" stroke="#8c8c8c" stroke-width="1.0"/>
<path d="M154.5 1351.4H138.7M1541.7 1351.4H1557.5" stroke="#8c8c8c" stroke-width="1.0"/>
<path d="M154.5 1332.0H138.7M1541.7 1332.0H1557.5" stroke="#8c8c8c" stroke-width="1.0"/>
<path d="M154.5 1312.6H138.7M1541.7 1312.6H1557.5" stroke="#8c8c8c" stroke-width="1.0"/>
<path d="M154.5 1273.7H138.7M1541.7 1273.7H1557.5" stroke="#8c8c8c" stroke-width="1.0"/>
<path d="M154.5 1254.3H138.7M1541.7 1254.3H1557.5" stroke="#8c8c8c" stroke-width="1.0"/>
<path d="M154.5 1234.8H138.7M1541.7 1234.8H1557.5" stroke="#8c8c8c" stroke-width="1.0"/>
<path d="M154.5 1196.0H138.7M1541.7 1196.0H1557.5" stroke="#8c8c8c" stroke-width="1.0"/>
<path d="M154.5 1176.5H138.7M1541.7 1176.5H1557.5" stroke="#8c8c8c" stroke-width="1.0"/>
<path d="M154.5 1157.1H138.7M1541.7 1157.1H1557.5" stroke="#8c8c8c" stroke-width="1.0"/>
<path d="M154.5 1604.0H123.0M1541.7 1604.0H1573.2" stroke="#444" stroke-width="1.15"/>
<text transform="translate(94.8 1618.9) scale(1 1.025)" font-size="41.00" text-anchor="end">6.80</text>
<path d="M154.5 1526.3H123.0M1541.7 1526.3H1573.2" stroke="#444" stroke-width="1.15"/>
<text transform="translate(94.8 1541.2) scale(1 1.025)" font-size="41.00" text-anchor="end">7.20</text>
<path d="M154.5 1448.6H123.0M1541.7 1448.6H1573.2" stroke="#444" stroke-width="1.15"/>
<text transform="translate(94.8 1463.5) scale(1 1.025)" font-size="41.00" text-anchor="end">7.60</text>
<path d="M154.5 1370.8H123.0M1541.7 1370.8H1573.2" stroke="#444" stroke-width="1.15"/>
<text transform="translate(94.8 1385.7) scale(1 1.025)" font-size="41.00" text-anchor="end">8.00</text>
<path d="M154.5 1293.1H123.0M1541.7 1293.1H1573.2" stroke="#444" stroke-width="1.15"/>
<text transform="translate(94.8 1308.0) scale(1 1.025)" font-size="41.00" text-anchor="end">8.40</text>
<path d="M154.5 1215.4H123.0M1541.7 1215.4H1573.2" stroke="#444" stroke-width="1.15"/>
<text transform="translate(94.8 1230.3) scale(1 1.025)" font-size="41.00" text-anchor="end">8.80</text>
<rect x="154.5" y="1153.2" width="1387.2" height="495.3" fill="none" stroke="#3a3a3a" stroke-width="1.15"/>
<text transform="translate(200.5 1738.8) scale(1 1.025)" font-size="41.00" text-anchor="middle">1980</text>
<text transform="translate(508.7 1738.8) scale(1 1.025)" font-size="41.00" text-anchor="middle">1990</text>
<text transform="translate(816.9 1738.8) scale(1 1.025)" font-size="41.00" text-anchor="middle">2000</text>
<text transform="translate(1125.1 1738.8) scale(1 1.025)" font-size="41.00" text-anchor="middle">2010</text>
<text transform="translate(1433.3 1738.8) scale(1 1.025)" font-size="41.00" text-anchor="middle">2020</text>
<text x="848.1" y="1817.6" font-size="54.00" text-anchor="middle">time</text>
<text transform="translate(151.3 1098.8) scale(1 1.035)" font-size="47.65" fill="#cfc870">CESM1-LENS (40 Members)</text>
<text transform="translate(1526.0 1096.2) scale(1 1.025)" font-size="36.77" text-anchor="end">-0.63/0/0.55 10^12 m2 45yr</text>
<text x="1525.8" y="1078.3" font-size="24.0" letter-spacing="-2.2">-1</text>
<text transform="translate(223.6 1617.3) scale(1 1.025)" font-size="37.40" text-anchor="middle">69%</text>
<polyline fill="none" stroke="#999999" stroke-width="5.5" stroke-linecap="round" stroke-linejoin="round" points="1857.0,1385.4 1887.8,1346.9 1918.6,1357.6 1949.4,1318.9 1980.3,1287.2"/>
<polyline fill="none" stroke="#999999" stroke-width="5.5" stroke-linecap="round" stroke-linejoin="round" points="2041.9,1351.2 2072.7,1282.1 2103.5,1282.1 2134.4,1291.3 2165.2,1300.5 2196.0,1415.0 2226.8,1354.3 2257.6,1232.0 2288.5,1334.3 2319.3,1256.8 2350.1,1396.2 2380.9,1177.0 2411.7,1298.8 2442.6,1282.2 2473.4,1288.8 2504.2,1282.7 2535.0,1270.5 2565.8,1316.1 2596.7,1287.5 2627.5,1276.6 2658.3,1352.3 2689.1,1326.6 2719.9,1461.8 2750.8,1363.2 2781.6,1320.7 2812.4,1368.8 2843.2,1406.8 2874.0,1485.9 2904.9,1310.0 2935.7,1303.6 2966.5,1313.9 2997.3,1328.2 3028.1,1324.1 3059.0,1290.4 3089.8,1358.7 3120.6,1360.6 3151.4,1284.0 3182.2,1221.0 3213.1,1258.3"/>
<polyline fill="none" stroke="#cfc870" stroke-width="5.4" stroke-linecap="round" stroke-linejoin="round" points="1857.0,1273.2 1887.8,1273.2 1918.6,1273.2 1949.4,1273.2 1980.3,1273.2 2011.1,1273.2 2041.9,1273.2 2072.7,1273.2 2103.5,1273.2 2134.4,1273.2 2165.2,1273.2 2196.0,1273.2 2226.8,1273.2 2257.6,1273.2 2288.5,1273.2 2319.3,1273.2 2350.1,1273.2 2380.9,1273.2 2411.7,1273.2 2442.6,1273.2 2473.4,1273.2 2504.2,1273.2 2535.0,1273.2 2565.8,1273.2 2596.7,1273.2 2627.5,1273.2 2658.3,1273.2 2689.1,1273.2 2719.9,1273.2 2750.8,1273.2 2781.6,1273.2 2812.4,1273.2 2843.2,1273.2 2874.0,1273.2 2904.9,1273.2 2935.7,1273.2 2966.5,1273.2 2997.3,1273.2 3028.1,1273.2 3059.0,1273.2 3089.8,1273.2 3120.6,1273.2 3151.4,1273.2 3182.2,1273.2 3213.1,1273.2"/>
<polyline fill="none" stroke="#6a8f6b" stroke-width="5.4" stroke-linecap="round" stroke-linejoin="round" points="1857.0,1429.1 1887.8,1429.1 1918.6,1429.1 1949.4,1429.1 1980.3,1429.1 2011.1,1429.1 2041.9,1429.1 2072.7,1429.1 2103.5,1429.1 2134.4,1429.1 2165.2,1429.1 2196.0,1429.1 2226.8,1429.1 2257.6,1429.1 2288.5,1429.1 2319.3,1429.1 2350.1,1429.1 2380.9,1429.1 2411.7,1429.1 2442.6,1429.1 2473.4,1429.1 2504.2,1429.1 2535.0,1429.1 2565.8,1429.1 2596.7,1429.1 2627.5,1429.1 2658.3,1429.1 2689.1,1429.1 2719.9,1429.1 2750.8,1429.1 2781.6,1429.1 2812.4,1429.2 2843.2,1429.3 2874.0,1429.4 2904.9,1429.4 2935.7,1429.5 2966.5,1429.6 2997.3,1429.7 3028.1,1429.8 3059.0,1429.9 3089.8,1430.0 3120.6,1430.0 3151.4,1430.1 3182.2,1430.2 3213.1,1430.3"/>
<polyline fill="none" stroke="#07678f" stroke-width="5.4" stroke-linecap="round" stroke-linejoin="round" points="1857.0,1623.3 1887.8,1623.3 1918.6,1623.3 1949.4,1623.3 1980.3,1623.3 2011.1,1623.3 2041.9,1623.3 2072.7,1623.3 2103.5,1623.3 2134.4,1623.3 2165.2,1623.3 2196.0,1623.3 2226.8,1623.3 2257.6,1623.3 2288.5,1623.3 2319.3,1623.3 2350.1,1623.3 2380.9,1623.3 2411.7,1623.3 2442.6,1623.3 2473.4,1623.3 2504.2,1623.3 2535.0,1623.3 2565.8,1623.3 2596.7,1623.3 2627.5,1623.3 2658.3,1623.3 2689.1,1623.3 2719.9,1623.3 2750.8,1623.3 2781.6,1623.3 2812.4,1623.5 2843.2,1623.6 2874.0,1623.8 2904.9,1623.9 2935.7,1624.1 2966.5,1624.2 2997.3,1624.4 3028.1,1624.6 3059.0,1624.7 3089.8,1624.9 3120.6,1625.0 3151.4,1625.2 3182.2,1625.3 3213.1,1625.5"/>
<path d="M1887.8 1153.2V1121.7M1887.8 1648.5V1680.0" stroke="#444" stroke-width="1.15"/>
<path d="M1949.4 1153.2V1137.4M1949.4 1648.5V1664.3" stroke="#8c8c8c" stroke-width="1.0"/>
<path d="M2011.1 1153.2V1137.4M2011.1 1648.5V1664.3" stroke="#8c8c8c" stroke-width="1.0"/>
<path d="M2072.7 1153.2V1137.4M2072.7 1648.5V1664.3" stroke="#8c8c8c" stroke-width="1.0"/>
<path d="M2134.4 1153.2V1137.4M2134.4 1648.5V1664.3" stroke="#8c8c8c" stroke-width="1.0"/>
<path d="M2196.0 1153.2V1121.7M2196.0 1648.5V1680.0" stroke="#444" stroke-width="1.15"/>
<path d="M2257.6 1153.2V1137.4M2257.6 1648.5V1664.3" stroke="#8c8c8c" stroke-width="1.0"/>
<path d="M2319.3 1153.2V1137.4M2319.3 1648.5V1664.3" stroke="#8c8c8c" stroke-width="1.0"/>
<path d="M2380.9 1153.2V1137.4M2380.9 1648.5V1664.3" stroke="#8c8c8c" stroke-width="1.0"/>
<path d="M2442.6 1153.2V1137.4M2442.6 1648.5V1664.3" stroke="#8c8c8c" stroke-width="1.0"/>
<path d="M2504.2 1153.2V1121.7M2504.2 1648.5V1680.0" stroke="#444" stroke-width="1.15"/>
<path d="M2565.8 1153.2V1137.4M2565.8 1648.5V1664.3" stroke="#8c8c8c" stroke-width="1.0"/>
<path d="M2627.5 1153.2V1137.4M2627.5 1648.5V1664.3" stroke="#8c8c8c" stroke-width="1.0"/>
<path d="M2689.1 1153.2V1137.4M2689.1 1648.5V1664.3" stroke="#8c8c8c" stroke-width="1.0"/>
<path d="M2750.8 1153.2V1137.4M2750.8 1648.5V1664.3" stroke="#8c8c8c" stroke-width="1.0"/>
<path d="M2812.4 1153.2V1121.7M2812.4 1648.5V1680.0" stroke="#444" stroke-width="1.15"/>
<path d="M2874.0 1153.2V1137.4M2874.0 1648.5V1664.3" stroke="#8c8c8c" stroke-width="1.0"/>
<path d="M2935.7 1153.2V1137.4M2935.7 1648.5V1664.3" stroke="#8c8c8c" stroke-width="1.0"/>
<path d="M2997.3 1153.2V1137.4M2997.3 1648.5V1664.3" stroke="#8c8c8c" stroke-width="1.0"/>
<path d="M3059.0 1153.2V1137.4M3059.0 1648.5V1664.3" stroke="#8c8c8c" stroke-width="1.0"/>
<path d="M3120.6 1153.2V1121.7M3120.6 1648.5V1680.0" stroke="#444" stroke-width="1.15"/>
<path d="M3182.2 1153.2V1137.4M3182.2 1648.5V1664.3" stroke="#8c8c8c" stroke-width="1.0"/>
<path d="M1841.8 1622.1H1826.0M3229.0 1622.1H3244.8" stroke="#8c8c8c" stroke-width="1.0"/>
<path d="M1841.8 1594.1H1826.0M3229.0 1594.1H3244.8" stroke="#8c8c8c" stroke-width="1.0"/>
<path d="M1841.8 1538.3H1826.0M3229.0 1538.3H3244.8" stroke="#8c8c8c" stroke-width="1.0"/>
<path d="M1841.8 1510.3H1826.0M3229.0 1510.3H3244.8" stroke="#8c8c8c" stroke-width="1.0"/>
<path d="M1841.8 1482.4H1826.0M3229.0 1482.4H3244.8" stroke="#8c8c8c" stroke-width="1.0"/>
<path d="M1841.8 1454.4H1826.0M3229.0 1454.4H3244.8" stroke="#8c8c8c" stroke-width="1.0"/>
<path d="M1841.8 1398.6H1826.0M3229.0 1398.6H3244.8" stroke="#8c8c8c" stroke-width="1.0"/>
<path d="M1841.8 1370.6H1826.0M3229.0 1370.6H3244.8" stroke="#8c8c8c" stroke-width="1.0"/>
<path d="M1841.8 1342.7H1826.0M3229.0 1342.7H3244.8" stroke="#8c8c8c" stroke-width="1.0"/>
<path d="M1841.8 1314.7H1826.0M3229.0 1314.7H3244.8" stroke="#8c8c8c" stroke-width="1.0"/>
<path d="M1841.8 1258.9H1826.0M3229.0 1258.9H3244.8" stroke="#8c8c8c" stroke-width="1.0"/>
<path d="M1841.8 1230.9H1826.0M3229.0 1230.9H3244.8" stroke="#8c8c8c" stroke-width="1.0"/>
<path d="M1841.8 1203.0H1826.0M3229.0 1203.0H3244.8" stroke="#8c8c8c" stroke-width="1.0"/>
<path d="M1841.8 1175.0H1826.0M3229.0 1175.0H3244.8" stroke="#8c8c8c" stroke-width="1.0"/>
<path d="M1841.8 1566.2H1810.3M3229.0 1566.2H3260.5" stroke="#444" stroke-width="1.15"/>
<text transform="translate(1782.1 1581.1) scale(1 1.025)" font-size="41.00" text-anchor="end">6.0</text>
<path d="M1841.8 1426.5H1810.3M3229.0 1426.5H3260.5" stroke="#444" stroke-width="1.15"/>
<text transform="translate(1782.1 1441.4) scale(1 1.025)" font-size="41.00" text-anchor="end">7.0</text>
<path d="M1841.8 1286.8H1810.3M3229.0 1286.8H3260.5" stroke="#444" stroke-width="1.15"/>
<text transform="translate(1782.1 1301.7) scale(1 1.025)" font-size="41.00" text-anchor="end">8.0</text>
<rect x="1841.8" y="1153.2" width="1387.2" height="495.3" fill="none" stroke="#3a3a3a" stroke-width="1.15"/>
<text transform="translate(1887.8 1738.8) scale(1 1.025)" font-size="41.00" text-anchor="middle">1980</text>
<text transform="translate(2196.0 1738.8) scale(1 1.025)" font-size="41.00" text-anchor="middle">1990</text>
<text transform="translate(2504.2 1738.8) scale(1 1.025)" font-size="41.00" text-anchor="middle">2000</text>
<text transform="translate(2812.4 1738.8) scale(1 1.025)" font-size="41.00" text-anchor="middle">2010</text>
<text transform="translate(3120.6 1738.8) scale(1 1.025)" font-size="41.00" text-anchor="middle">2020</text>
<text x="2535.4" y="1817.6" font-size="54.00" text-anchor="middle">time</text>
<text transform="translate(1838.6 1098.8) scale(1 1.035)" font-size="47.65">Ensemble Mean Summary</text>
</svg></body></html>
